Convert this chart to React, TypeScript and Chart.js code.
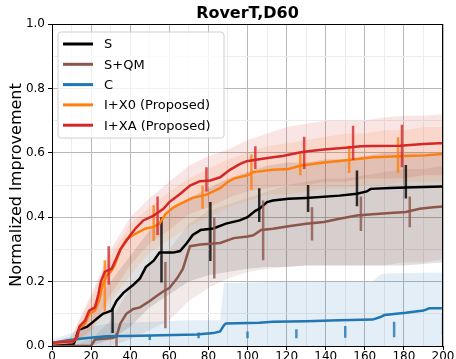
import React, { useEffect, useRef } from "react";
import { Chart, registerables } from "chart.js";
Chart.register(...registerables);

const FONT = "'DejaVu Sans', sans-serif";
const TITLE = "RoverT,D60";
const Y_LABEL = "Normalized Improvement";

const seriesNames = ["S", "S+QM", "C", "I+X0 (Proposed)", "I+XA (Proposed)"];
const seriesColors = ["#000000", "#8c564b", "#1f77b4", "#ff7f0e", "#d62728"];
const seriesRGB = ["0,0,0", "140,86,75", "31,119,180", "255,127,14", "214,39,40"];

// Mean curves
const sX = [0, 11, 12.5, 13.5, 18, 21, 24, 26, 30.5, 33, 36.5, 41.6, 45, 48, 52, 55, 62, 65.5, 69, 72, 76, 82.5, 89, 96, 100, 104, 106, 110, 113, 121, 130, 147, 156, 161, 163, 173, 185, 200];
const sY = [0.0, 0.005, 0.03, 0.05, 0.06, 0.075, 0.09, 0.1, 0.11, 0.14, 0.165, 0.19, 0.21, 0.245, 0.265, 0.29, 0.29, 0.295, 0.32, 0.345, 0.36, 0.365, 0.38, 0.39, 0.4, 0.42, 0.426, 0.447, 0.452, 0.457, 0.46, 0.467, 0.473, 0.48, 0.488, 0.491, 0.493, 0.495];

const qmX = [0, 20, 22, 31, 33, 35, 38, 41.6, 45, 50, 53.5, 57, 60, 64, 67, 69, 70.6, 76, 86, 93, 100, 103, 107, 113, 121, 130, 139, 147, 156, 164, 173, 181, 188, 195, 200];
const qmY = [0, 0, 0.02, 0.025, 0.03, 0.07, 0.1, 0.115, 0.12, 0.14, 0.155, 0.17, 0.18, 0.21, 0.24, 0.28, 0.31, 0.315, 0.32, 0.335, 0.34, 0.344, 0.36, 0.364, 0.372, 0.38, 0.385, 0.395, 0.405, 0.409, 0.413, 0.416, 0.426, 0.431, 0.433];

const cX = [0, 11, 18, 28, 45, 62, 74, 82.5, 86, 88, 89, 106, 113, 130, 147, 164, 168, 170, 181, 190, 193, 200];
const cY = [0.01, 0.02, 0.025, 0.03, 0.032, 0.034, 0.036, 0.04, 0.045, 0.065, 0.07, 0.072, 0.075, 0.077, 0.08, 0.082, 0.09, 0.096, 0.103, 0.11, 0.117, 0.117];

const x0X = [0, 11, 13, 14, 17, 19, 22, 24, 26, 28, 30, 32, 35, 38, 43, 48, 52, 55, 58, 62, 65, 72, 79, 86, 90, 93, 100, 103, 113, 121, 127, 139, 152, 164, 181, 191, 200];
const x0Y = [0.01, 0.015, 0.03, 0.055, 0.07, 0.1, 0.11, 0.14, 0.19, 0.22, 0.23, 0.25, 0.3, 0.33, 0.35, 0.365, 0.37, 0.38, 0.41, 0.43, 0.44, 0.46, 0.47, 0.49, 0.51, 0.52, 0.53, 0.54, 0.547, 0.55, 0.56, 0.57, 0.578, 0.586, 0.59, 0.592, 0.596];

const xaX = [0, 11, 13, 14, 17, 19, 22, 23.7, 25, 27, 30.5, 35, 40, 43, 46.7, 52, 57, 60, 65.5, 70.6, 75.7, 81, 86, 91, 96, 99.6, 106, 113, 118, 126, 130, 139, 147, 153, 158, 164, 178, 190, 198, 200];
const xaY = [0.01, 0.015, 0.03, 0.06, 0.08, 0.11, 0.12, 0.16, 0.2, 0.23, 0.24, 0.3, 0.344, 0.367, 0.39, 0.405, 0.426, 0.447, 0.472, 0.498, 0.512, 0.514, 0.524, 0.547, 0.565, 0.574, 0.58, 0.586, 0.59, 0.6, 0.604, 0.61, 0.614, 0.617, 0.62, 0.621, 0.622, 0.627, 0.63, 0.63];

// Error bars
const sErrX = [31, 56, 81, 106, 131, 156, 181];
const sErrLo = [0.04, 0.197, 0.264, 0.385, 0.416, 0.434, 0.458];
const sErrHi = [0.117, 0.4, 0.447, 0.49, 0.5, 0.545, 0.562];
const qmErrX = [33, 58, 83, 108, 133, 158, 183];
const qmErrLo = [0.0, 0.055, 0.21, 0.266, 0.328, 0.357, 0.369];
const qmErrHi = [0.04, 0.261, 0.4, 0.452, 0.431, 0.464, 0.464];
const cErrX = [25, 50, 75, 100, 125, 150, 175, 200];
const cErrLo = [0.02, 0.019, 0.024, 0.024, 0.024, 0.026, 0.027, 0.034];
const cErrHi = [0.03, 0.034, 0.042, 0.045, 0.052, 0.062, 0.075, 0.1];
const x0ErrX = [27, 52, 77, 102, 127, 152, 177];
const x0ErrLo = [0.106, 0.326, 0.426, 0.485, 0.53, 0.537, 0.537];
const x0ErrHi = [0.266, 0.437, 0.498, 0.595, 0.596, 0.622, 0.648];
const xaErrX = [29, 54, 79, 104, 129, 154, 179];
const xaErrLo = [0.19, 0.345, 0.48, 0.55, 0.55, 0.578, 0.555];
const xaErrHi = [0.31, 0.464, 0.555, 0.62, 0.65, 0.684, 0.687];

// Shaded bands
const bandX = [0, 10, 20, 30, 40, 50, 60, 70, 80, 90, 100, 110, 120, 130, 140, 150, 160, 170, 180, 190, 200];
const sBandHi = [0, 0.01, 0.12, 0.2, 0.28, 0.36, 0.42, 0.46, 0.49, 0.52, 0.54, 0.56, 0.57, 0.57, 0.58, 0.58, 0.59, 0.6, 0.6, 0.6, 0.6];
const sBandLo = [0, 0, 0, 0.02, 0.06, 0.12, 0.16, 0.2, 0.22, 0.23, 0.24, 0.245, 0.245, 0.25, 0.25, 0.25, 0.25, 0.25, 0.25, 0.255, 0.26];
const qmBandHi = [0, 0, 0.02, 0.08, 0.18, 0.25, 0.3, 0.38, 0.42, 0.44, 0.46, 0.48, 0.5, 0.51, 0.52, 0.52, 0.53, 0.54, 0.55, 0.55, 0.56];
const qmBandLo = [0, 0, 0, 0, 0.02, 0.05, 0.08, 0.14, 0.18, 0.21, 0.23, 0.24, 0.245, 0.25, 0.25, 0.25, 0.25, 0.25, 0.26, 0.26, 0.27];
const x0BandHi = [0.01, 0.03, 0.15, 0.28, 0.38, 0.43, 0.48, 0.52, 0.55, 0.58, 0.6, 0.62, 0.63, 0.64, 0.65, 0.66, 0.66, 0.67, 0.67, 0.68, 0.68];
const x0BandLo = [0, 0, 0.04, 0.14, 0.22, 0.29, 0.33, 0.37, 0.4, 0.43, 0.45, 0.47, 0.47, 0.48, 0.49, 0.49, 0.5, 0.5, 0.51, 0.51, 0.51];
const xaBandHi = [0.01, 0.03, 0.16, 0.3, 0.4, 0.46, 0.51, 0.56, 0.59, 0.61, 0.64, 0.66, 0.68, 0.69, 0.7, 0.7, 0.7, 0.71, 0.715, 0.715, 0.72];
const xaBandLo = [0, 0, 0.05, 0.16, 0.25, 0.32, 0.36, 0.41, 0.43, 0.46, 0.48, 0.49, 0.5, 0.5, 0.51, 0.51, 0.52, 0.52, 0.52, 0.53, 0.53];
const cBandX = [0, 10, 20, 30, 50, 70, 86, 88, 120, 164, 168, 172, 200];
const cBandHi = [0.02, 0.04, 0.06, 0.07, 0.075, 0.08, 0.08, 0.195, 0.2, 0.2, 0.222, 0.225, 0.228];
const cBandLo = [0, 0, 0, 0, 0, 0, 0, 0, 0, 0, 0, 0, 0];

const xy = (xs: number[], ys: number[]) => xs.map((x, i) => ({ x, y: ys[i] }));
const errData = (xs: number[], lo: number[], hi: number[]) =>
  xs.flatMap((x, i) => [{ x, y: lo[i] }, { x, y: hi[i] }, { x, y: null as any }]);

export default function App() {
  const ref = useRef<HTMLCanvasElement>(null);
  useEffect(() => {
    const lines = [
      { X: sX, Y: sY, eX: sErrX, eL: sErrLo, eH: sErrHi, bX: bandX, bL: sBandLo, bH: sBandHi },
      { X: qmX, Y: qmY, eX: qmErrX, eL: qmErrLo, eH: qmErrHi, bX: bandX, bL: qmBandLo, bH: qmBandHi },
      { X: cX, Y: cY, eX: cErrX, eL: cErrLo, eH: cErrHi, bX: cBandX, bL: cBandLo, bH: cBandHi },
      { X: x0X, Y: x0Y, eX: x0ErrX, eL: x0ErrLo, eH: x0ErrHi, bX: bandX, bL: x0BandLo, bH: x0BandHi },
      { X: xaX, Y: xaY, eX: xaErrX, eL: xaErrLo, eH: xaErrHi, bX: bandX, bL: xaBandLo, bH: xaBandHi },
    ];
    const datasets: any[] = [];
    lines.forEach((l, i) => {
      const lowIdx = datasets.length;
      datasets.push({
        label: "", data: xy(l.bX, l.bL), borderWidth: 0, pointRadius: 0, fill: false, order: 50 - i,
      });
      datasets.push({
        label: "", data: xy(l.bX, l.bH), borderWidth: 0, pointRadius: 0,
        fill: { target: lowIdx }, backgroundColor: `rgba(${seriesRGB[i]},0.12)`, order: 50 - i,
      });
    });
    lines.forEach((l, i) => {
      datasets.push({
        label: seriesNames[i], data: xy(l.X, l.Y), borderColor: seriesColors[i], borderWidth: 2.5,
        pointRadius: 0, fill: false, order: 10 - i, borderJoinStyle: "miter",
      });
      datasets.push({
        label: "", data: errData(l.eX, l.eL, l.eH), borderColor: `rgba(${seriesRGB[i]},0.8)`, borderWidth: 2.5,
        pointRadius: 0, fill: false, spanGaps: false, order: 10 - i, borderCapStyle: "butt",
      });
    });

    const deco = {
      id: "deco",
      afterDraw(chart: any) {
        const { ctx, chartArea: a } = chart;
        ctx.save();
        ctx.strokeStyle = "#000";
        ctx.lineWidth = 1;
        ctx.strokeRect(a.left + 0.5, a.top + 0.5, a.right - a.left - 1, a.bottom - a.top);
        ctx.fillStyle = "#000";
        ctx.font = `bold 16px ${FONT}`;
        ctx.textAlign = "center";
        ctx.textBaseline = "middle";
        ctx.fillText(TITLE, (a.left + a.right) / 2, 14);
        const bx = a.left + 6, by = a.top + 8, bw = 166, bh = 106;
        ctx.beginPath();
        const r = 3;
        ctx.moveTo(bx + r, by);
        ctx.arcTo(bx + bw, by, bx + bw, by + bh, r);
        ctx.arcTo(bx + bw, by + bh, bx, by + bh, r);
        ctx.arcTo(bx, by + bh, bx, by, r);
        ctx.arcTo(bx, by, bx + bw, by, r);
        ctx.closePath();
        ctx.fillStyle = "rgba(255,255,255,0.8)";
        ctx.fill();
        ctx.strokeStyle = "#d0d0d0";
        ctx.stroke();
        ctx.font = `13px ${FONT}`;
        ctx.textAlign = "left";
        seriesNames.forEach((n, i) => {
          const y = by + 12 + i * 20.3;
          ctx.strokeStyle = seriesColors[i];
          ctx.lineWidth = 3;
          ctx.beginPath();
          ctx.moveTo(bx + 5, y);
          ctx.lineTo(bx + 35, y);
          ctx.stroke();
          ctx.fillStyle = "#000";
          ctx.fillText(n, bx + 46, y + 1);
        });
        ctx.restore();
      },
    };

    const chart = new Chart(ref.current!, {
      type: "line",
      data: { datasets },
      plugins: [deco],
      options: {
        animation: false,
        responsive: false,
        devicePixelRatio: 1,
        layout: { padding: { top: 24, right: 13, left: 0, bottom: 0 } },
        plugins: { legend: { display: false }, tooltip: { enabled: false }, title: { display: false } },
        elements: { line: { tension: 0 } },
        scales: {
          x: {
            type: "linear", min: 0, max: 200,
            border: { display: false },
            ticks: {
              stepSize: 10, padding: 0, color: "#000", font: { family: FONT, size: 12 },
              maxRotation: 0, autoSkip: false,
              callback: (v: any) => (Math.round(v) % 20 === 0 ? String(Math.round(v)) : ""),
            },
            grid: {
              color: (c: any) => (Math.round(c.tick.value) % 20 === 0 ? "#b8b8b8" : "#ececec"),
              tickColor: (c: any) => (Math.round(c.tick.value) % 20 === 0 ? "#000" : "rgba(0,0,0,0)"),
              tickLength: 4,
            },
            afterFit: (s: any) => { s.height = 13; },
          },
          y: {
            type: "linear", min: 0, max: 1,
            border: { display: false },
            title: { display: true, text: Y_LABEL, color: "#000", font: { family: FONT, size: 16 }, padding: { top: 7, bottom: 4 } },
            ticks: {
              stepSize: 0.1, padding: 3, color: "#000", font: { family: FONT, size: 12 },
              autoSkip: false,
              callback: (v: any) => (Math.round(v * 10) % 2 === 0 ? Number(v).toFixed(1) : ""),
            },
            grid: {
              color: (c: any) => (Math.round(c.tick.value * 10) % 2 === 0 ? "#b8b8b8" : "#ececec"),
              tickColor: (c: any) => (Math.round(c.tick.value * 10) % 2 === 0 ? "#000" : "rgba(0,0,0,0)"),
              tickLength: 4,
            },
            afterFit: (s: any) => { s.width = 52; },
          },
        },
      } as any,
    });
    return () => chart.destroy();
  }, []);
  return (
    <div style={{ position: "fixed", left: 0, top: 0, width: 456, height: 359, background: "#fff" }}>
      <canvas ref={ref} width={456} height={359} style={{ display: "block" }} />
    </div>
  );
}
